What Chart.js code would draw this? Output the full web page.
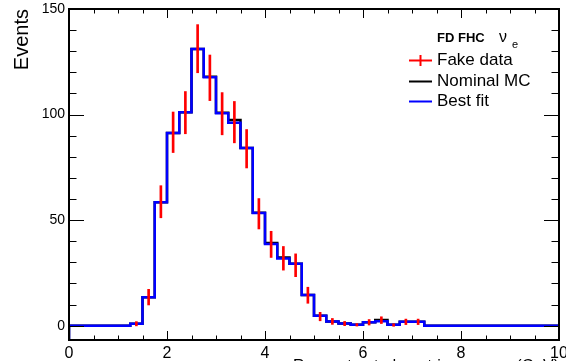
<!DOCTYPE html>
<html>
<head>
<meta charset="utf-8">
<script src="https://cdn.jsdelivr.net/npm/chart.js@4.4.1/dist/chart.umd.min.js"></script>
<style>
  html, body { margin: 0; padding: 0; background: #fff; overflow: hidden; }
  canvas { display: block; }
</style>
</head>
<body>
<canvas id="spectrum" width="566" height="380"></canvas>
<script>
// FD FHC nue spectrum: 0.25 GeV bins up to 7.25 GeV, then one wide bin up to 10 GeV
const binLow = [0, 0.25, 0.5, 0.75, 1, 1.25, 1.5, 1.75, 2, 2.25, 2.5, 2.75, 3, 3.25, 3.5, 3.75,
                4, 4.25, 4.5, 4.75, 5, 5.25, 5.5, 5.75, 6, 6.25, 6.5, 6.75, 7, 7.25]
const binHigh = 10

const nominalMC = [0, 0, 0, 0, 0, 0.9, 13.5, 58.5, 91.3, 101.1, 131.1, 117.9, 100.8, 97.4, 84.2, 53.5,
                   39.2, 32.3, 29.3, 14.5, 4.7, 2.0, 1.0, 0.4, 1.6, 2.7, 0.4, 1.8, 1.8, 0]
const bestFit = [0, 0, 0, 0, 0, 0.9, 13.5, 58.5, 91.3, 101.1, 131.1, 117.7, 100.6, 96.1, 84.2, 53.4,
                 38.7, 31.8, 29.3, 14.5, 4.7, 2.0, 1.0, 0.4, 1.6, 2.1, 0.4, 1.8, 1.8, 0]
const fakeData = [null, null, null, null, null, 0.9, 13.5, 58.7, 91.6, 100.9, 131.2, 117.4, 100.4, 96.4, 83.8, 53.0,
                  38.5, 31.9, 28.6, 14.4, 4.3, 2.0, 1.0, 0.4, 1.6, 2.6, 0.3, 1.8, 1.8, null]
const fakeErr = [null, null, null, null, null, 1.0, 3.7, 7.6, 9.6, 10.0, 11.4, 10.8, 10.0, 9.8, 9.1, 7.2,
                 6.2, 5.6, 5.4, 3.8, 2.0, 1.4, 1.0, 0.6, 1.3, 1.6, 0.6, 1.3, 1.3, null]

const xTicks = [0, 2, 4, 6, 8, 10]
const yTicks = [0, 50, 100, 150]
const xMinorStep = 0.5
const yMinorStep = 10
const yMin = -6.8
const yMax = 150

const FONT = 'Liberation Sans'
Chart.defaults.font.family = FONT
Chart.defaults.color = '#000'

// histogram outline from bin edges (step drawn at each left edge)
const histPoints = (values) => {
    const pts = [{ x: binLow[0], y: yMin }]
    binLow.forEach((x, i) => pts.push({ x: x, y: values[i] }))
    pts.push({ x: binHigh, y: values[values.length - 1] })
    return pts
}

const errorBars = []
binLow.forEach((lo, i) => {
    if (fakeData[i] === null) return
    const hi = i + 1 < binLow.length ? binLow[i + 1] : binHigh
    errorBars.push({ x: (lo + hi) / 2, y: [fakeData[i] - fakeErr[i], fakeData[i] + fakeErr[i]] })
})

// frame with inward ticks on all four sides, plus the legend box
const rootFrame = {
    id: 'rootFrame',
    afterDatasetsDraw(chart) {
        const { ctx, chartArea: a, scales: { x, y } } = chart
        ctx.save()
        ctx.strokeStyle = '#000'
        ctx.lineWidth = 1
        const tick = (x1, y1, x2, y2) => {
            ctx.beginPath()
            ctx.moveTo(x1, y1)
            ctx.lineTo(x2, y2)
            ctx.stroke()
        }
        for (let v = x.min; v <= x.max + 1e-9; v += xMinorStep) {
            const px = Math.round(x.getPixelForValue(v)) + 0.5
            const len = xTicks.includes(Math.round(v * 100) / 100) ? 9 : 4.5
            tick(px, a.bottom, px, a.bottom - len)
            tick(px, a.top, px, a.top + len)
        }
        for (let v = Math.ceil(y.min / yMinorStep) * yMinorStep; v <= y.max + 1e-9; v += yMinorStep) {
            const py = Math.round(y.getPixelForValue(v)) + 0.5
            const len = yTicks.includes(v) ? 15 : 7.5
            tick(a.left, py, a.left + len, py)
            tick(a.right, py, a.right - len, py)
        }
        ctx.lineWidth = 2
        ctx.strokeRect(a.left, a.top, a.right - a.left, a.bottom - a.top)

        // legend
        ctx.textBaseline = 'alphabetic'
        ctx.textAlign = 'left'
        ctx.fillStyle = '#000'
        ctx.font = 'bold 13px ' + FONT
        ctx.fillText('FD FHC', 437, 42)
        ctx.font = '16px ' + FONT
        ctx.fillText('\u03bd', 499, 42)
        ctx.font = '11px ' + FONT
        ctx.fillText('e', 512, 48)
        ctx.font = '17px ' + FONT
        ctx.fillText('Fake data', 437, 65)
        ctx.fillText('Nominal MC', 437, 86)
        ctx.fillText('Best fit', 437, 106)
        ctx.lineWidth = 2
        ctx.strokeStyle = '#ff0000'
        tick(409, 60.5, 432, 60.5)
        tick(420.5, 55, 420.5, 66)
        ctx.strokeStyle = '#000'
        tick(409, 81.5, 432, 81.5)
        ctx.strokeStyle = '#0000ff'
        tick(409, 101.5, 432, 101.5)
        ctx.restore()
    }
}

new Chart(document.getElementById('spectrum'), {
    type: 'line',
    data: {
        datasets: [
            {
                type: 'bar',
                label: 'Fake data',
                data: errorBars,
                backgroundColor: '#ff0000',
                barThickness: 2,
                grouped: false,
                order: 0
            },
            {
                label: 'Best fit',
                data: histPoints(bestFit),
                borderColor: '#0000ff',
                borderWidth: 2.5,
                stepped: 'before',
                pointRadius: 0,
                fill: false,
                order: 1
            },
            {
                label: 'Nominal MC',
                data: histPoints(nominalMC),
                borderColor: '#000000',
                borderWidth: 2.5,
                stepped: 'before',
                pointRadius: 0,
                fill: false,
                order: 2
            }
        ]
    },
    options: {
        responsive: false,
        animation: false,
        layout: { padding: { top: 9, right: 7, left: 0, bottom: 0 } },
        plugins: {
            legend: { display: false },
            tooltip: { enabled: false }
        },
        scales: {
            x: {
                type: 'linear',
                min: 0,
                max: 10,
                offset: false,
                grid: { display: false, drawTicks: false },
                border: { display: false },
                afterBuildTicks: (scale) => { scale.ticks = xTicks.map(v => ({ value: v })) },
                afterFit: (scale) => {
                    scale.height = 40
                    scale.paddingLeft = 0
                    scale.paddingRight = 0
                },
                ticks: { font: { size: 16 }, padding: 4, maxRotation: 0, autoSkip: false },
                title: {
                    display: true,
                    text: 'Reconstructed neutrino energy (GeV)',
                    align: 'end',
                    font: { size: 16 },
                    padding: { top: 0, bottom: 4 }
                }
            },
            y: {
                min: yMin,
                max: yMax,
                grid: { display: false, drawTicks: false },
                border: { display: false },
                afterBuildTicks: (scale) => { scale.ticks = yTicks.map(v => ({ value: v })) },
                afterFit: (scale) => {
                    scale.width = 69
                    scale.paddingTop = 0
                    scale.paddingBottom = 0
                },
                ticks: { font: { size: 14 }, padding: 4 },
                title: {
                    display: true,
                    text: 'Events',
                    align: 'end',
                    font: { size: 20 },
                    padding: { top: 10, bottom: 0 }
                }
            }
        }
    },
    plugins: [rootFrame]
})
</script>
</body>
</html>
